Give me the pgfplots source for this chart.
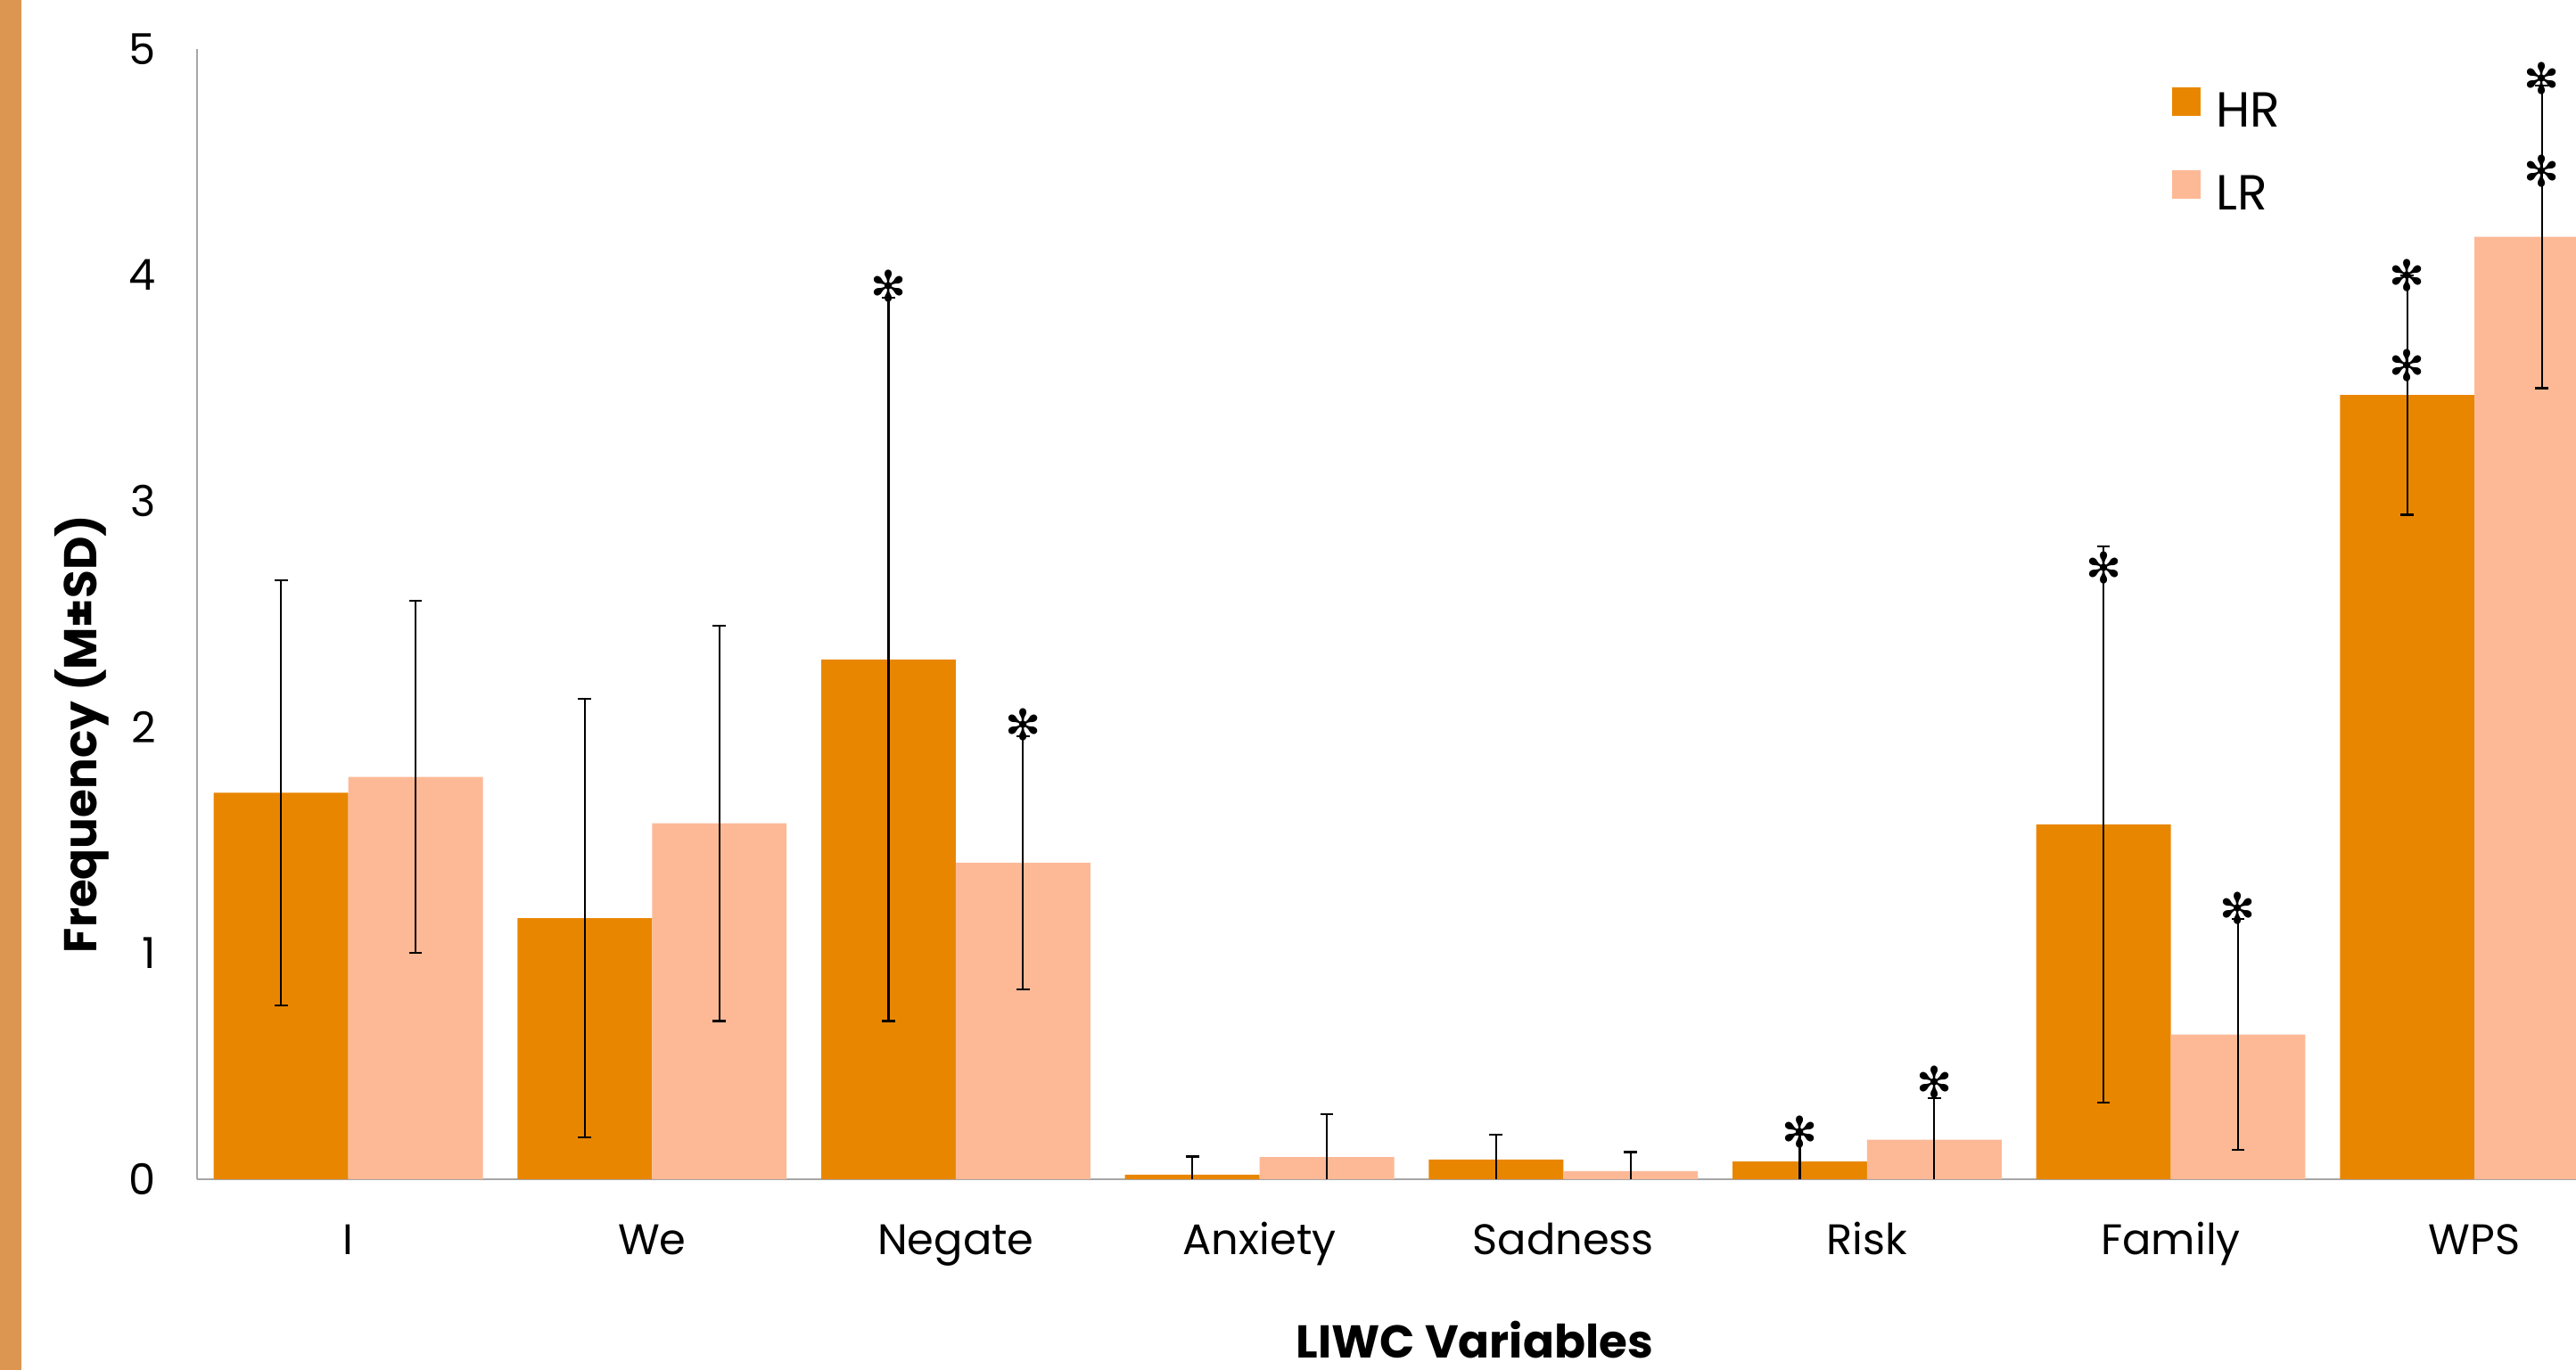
\documentclass[border=0pt]{standalone}
\usepackage{pgfplots}
\usepackage{pgfplotstable}
\pgfplotsset{compat=1.18}
\usepackage{fontspec}
\setmainfont{Poppins}
\newfontfamily\symfont{DejaVu Sans}
\usetikzlibrary{plotmarks}
\definecolor{hrcol}{RGB}{233,134,0}
\definecolor{lrcol}{RGB}{253,185,150}
\definecolor{stripcol}{RGB}{220,150,82}
\definecolor{axcol}{RGB}{166,166,166}

% HR bars sit at category index - 0.2215, LR bars at index + 0.2215
\pgfplotstableread{
x y e
-0.2215 1.71 0.94
0.7785 1.155 0.97
1.7785 2.30 1.60
2.7785 0.02 0.08
3.7785 0.087 0.11
4.7785 0.078 0.12
5.7785 1.57 1.23
6.7785 3.47 0.53
}\hrdata
\pgfplotstableread{
x y e
0.2215 1.78 0.78
1.2215 1.575 0.875
2.2215 1.40 0.56
3.2215 0.098 0.19
4.2215 0.036 0.084
5.2215 0.175 0.185
6.2215 0.64 0.51
7.2215 4.17 0.67
}\lrdata
\pgfplotstableread{
x y
1.7785 3.95
2.2215 2.01
4.7785 0.21
5.2215 0.43
5.7785 2.705
6.2215 1.20
6.7785 4.00
6.7785 3.60
7.2215 4.87
7.2215 4.46
}\stars

\begin{document}
\begin{tikzpicture}
\useasboundingbox (-120pt,-116pt) rectangle (1448pt,718pt);
\fill[stripcol] (-120pt,-116pt) rectangle (-107pt,718pt);
\begin{axis}[
  scale only axis, width=1448pt, height=688pt,
  at={(0pt,0pt)}, anchor=south west,
  xmin=-0.4976, xmax=7.334, ymin=0, ymax=5,
  axis x line*=bottom, axis y line*=left,
  axis line style={draw=axcol, line width=1pt},
  ytick={0,1,2,3,4,5}, xtick={0,1,2,3,4,5,6,7},
  xticklabels={I,We,Negate,Anxiety,Sadness,Risk,Family,WPS},
  major tick length=0pt,
  tick label style={font=\fontsize{26}{26}\selectfont, text=black},
  /pgf/number format/assume math mode=true,
  yticklabel style={anchor=east, inner sep=0pt, xshift=-25pt},
  xticklabel style={anchor=base, inner sep=0pt, yshift=-46pt},
  xlabel={LIWC Variables}, ylabel={Frequency (M±SD)},
  every axis x label/.style={at={(rel axis cs:0.537,0)}, anchor=base, yshift=-109pt, font=\bfseries\fontsize{28}{28}\selectfont},
  every axis y label/.style={at={(rel axis cs:0,0.394)}, xshift=-70pt, rotate=90, anchor=center, font=\bfseries\fontsize{28}{28}\selectfont},
  /pgf/bar width=0.443,
  legend style={at={(rel axis cs:0.8301,0.966)}, anchor=north west, draw=none, fill=none,
    inner sep=0pt, outer sep=0pt, column sep=9.5pt, row sep=25pt,
    font=\fontsize{30}{30}\selectfont, nodes={inner sep=0pt}},
  legend cell align=left,
  clip=true,
]
\addplot[ybar, bar shift=0pt, fill=hrcol, draw=none,
  legend image code/.code={\fill[hrcol] (0pt,-3pt) rectangle (17.5pt,14.3pt);},
  error bars/.cd, y dir=both, y explicit,
  error bar style={black, line width=1.2pt},
  error mark options={black, line width=1.2pt, mark size=4pt, rotate=90}]
  table[x=x, y=y, y error=e]{\hrdata};
\addlegendentry{HR}
\addplot[ybar, bar shift=0pt, fill=lrcol, draw=none,
  legend image code/.code={\fill[lrcol] (0pt,-3pt) rectangle (17.5pt,14.3pt);},
  error bars/.cd, y dir=both, y explicit,
  error bar style={black, line width=1.2pt},
  error mark options={black, line width=1.2pt, mark size=4pt, rotate=90}]
  table[x=x, y=y, y error=e]{\lrdata};
\addlegendentry{LR}
\addplot[only marks, forget plot, mark=text, text mark={\symfont ✻}, text mark as node=true,
  text mark style={font=\fontsize{26}{26}\selectfont, inner sep=0pt, text=black}]
  table[x=x, y=y]{\stars};
\end{axis}
\end{tikzpicture}
\end{document}
